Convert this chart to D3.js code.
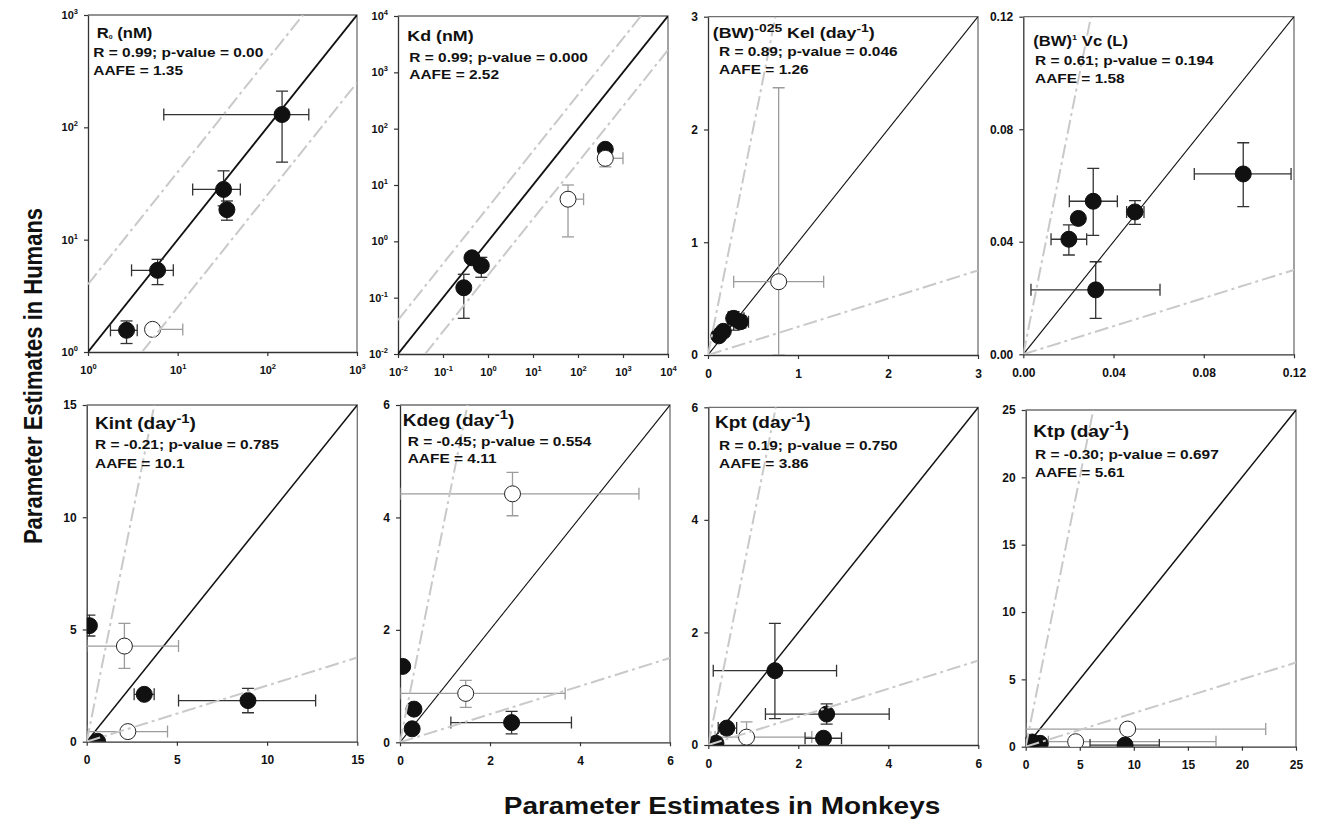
<!DOCTYPE html>
<html>
<head>
<meta charset="utf-8">
<script src="https://cdn.jsdelivr.net/npm/d3@7"></script>
<style>
  body { margin: 0; background: #fff; }
  svg { display: block; font-family: "Liberation Sans", Arial, Helvetica, sans-serif; font-weight: bold; }
</style>
</head>
<body>
<svg id="chart" width="1319" height="826"></svg>
<script>
// ---------- data ----------
// Each row: monkey estimate, human estimate, monkey low, monkey high, human low, human high, open marker (1) / filled (0)
const r0Points = [
  [146, 130, 7.0, 290, 49, 210, 0],
  [32.5, 28, 14.7, 50, 20, 41, 0],
  [35.4, 18.5, 31, 40, 14.9, 22.1, 0],
  [5.97, 5.33, 3.06, 8.94, 3.98, 6.68, 0],
  [2.69, 1.56, 1.78, 3.54, 1.19, 1.89, 0],
  [5.25, 1.59, 4.6, 11.4, null, null, 1]
];
const kdPoints = [
  [0.44, 0.51, null, null, null, null, 0],
  [0.71, 0.37, null, null, 0.23, 0.52, 0],
  [0.29, 0.15, null, null, 0.043, 0.26, 0],
  [404, 43, null, null, null, null, 0],
  [404, 29.8, 300, 1000, 21, 39, 1],
  [60, 5.6, 45, 133, 1.2, 10, 1]
];
const kelPoints = [
  [0.12, 0.17, null, null, null, null, 0],
  [0.17, 0.21, null, null, null, null, 0],
  [0.285, 0.325, 0.22, 0.40, 0.22, 0.385, 0],
  [0.36, 0.295, 0.30, 0.45, 0.24, 0.35, 0],
  [0.785, 0.65, 0.285, 1.285, 0, 2.37, 1]
];
const vcPoints = [
  [0.0975, 0.0641, 0.0758, 0.1187, 0.0525, 0.0752, 0],
  [0.0310, 0.0544, 0.0204, 0.0417, 0.0423, 0.0661, 0],
  [0.0244, 0.0483, null, null, null, null, 0],
  [0.0202, 0.0409, 0.0123, 0.0281, 0.0353, 0.0460, 0],
  [0.0495, 0.0506, 0.0458, 0.0535, 0.0462, 0.0546, 0],
  [0.0321, 0.0229, 0.0034, 0.0606, 0.0128, 0.0329, 0]
];
const kintPoints = [
  [0.15, 5.17, null, null, 4.71, 5.64, 0],
  [2.09, 4.26, 0, 5.09, 3.27, 5.27, 1],
  [3.19, 2.11, 2.63, 3.74, null, null, 0],
  [8.94, 1.83, 5.09, 12.69, 1.29, 2.38, 0],
  [2.28, 0.45, 0, 4.48, null, null, 1],
  [0.6, 0.02, null, null, null, null, 0]
];
const kdegPoints = [
  [2.50, 4.42, 0, 5.31, 4.03, 4.80, 1],
  [0.06, 1.35, null, null, null, null, 0],
  [1.46, 0.87, 0, 3.67, 0.62, 1.10, 1],
  [0.31, 0.59, null, null, null, null, 0],
  [0.27, 0.24, null, null, null, null, 0],
  [2.48, 0.35, 1.13, 3.81, 0.15, 0.55, 0]
];
const kptPoints = [
  [1.48, 1.32, 0.11, 2.85, 0.47, 2.16, 0],
  [0.41, 0.30, 0.22, 0.63, 0.20, 0.38, 0],
  [0.85, 0.14, 0.15, 2.3, 0, 0.41, 1],
  [2.56, 0.12, 2.15, 2.96, null, null, 0],
  [2.63, 0.55, 1.27, 4.02, 0.37, 0.73, 0],
  [0.17, 0.03, null, null, null, null, 0]
];
const ktpPoints = [
  [9.43, 1.31, 0, 22.2, 1.0, 1.6, 1],
  [4.62, 0.37, 2.1, 17.6, null, null, 1],
  [9.19, 0.12, 5.95, 12.36, null, null, 0],
  [1.33, 0.25, null, null, null, null, 0],
  [0.25, 0.12, null, null, null, null, 0],
  [0.6, 0.35, null, null, null, null, 0]
];

// axis ticks
const r0Ticks = [1, 10, 100, 1000];
const kdTicks = [0.01, 0.1, 1, 10, 100, 1000, 10000];
const kelTicks = [0, 1, 2, 3];
const vcTicks = [0, 0.04, 0.08, 0.12];
const kintTicks = [0, 5, 10, 15];
const kdegTicks = [0, 2, 4, 6];
const kptTicks = [0, 2, 4, 6];
const ktpTicks = [0, 5, 10, 15, 20, 25];

// panel headings: [text, kind] where kind is "" | "sup" | "sup1" | "sub"
const r0Title = [["R", ""], ["0", "sub"], [" (nM)", ""]];
const kdTitle = [["Kd (nM)", ""]];
const kelTitle = [["(BW)", ""], ["-025", "sup"], [" Kel (day", ""], ["-1", "sup"], [")", ""]];
const vcTitle = [["(BW)", ""], ["1", "sup1"], [" Vc (L)", ""]];
const kintTitle = [["Kint (day", ""], ["-1", "sup"], [")", ""]];
const kdegTitle = [["Kdeg (day", ""], ["-1", "sup"], [")", ""]];
const kptTitle = [["Kpt (day", ""], ["-1", "sup"], [")", ""]];
const ktpTitle = [["Ktp (day", ""], ["-1", "sup"], [")", ""]];

const r0Stats = ["R = 0.99; p-value = 0.00", "AAFE = 1.35"];
const kdStats = ["R = 0.99; p-value = 0.000", "AAFE = 2.52"];
const kelStats = ["R = 0.89; p-value = 0.046", "AAFE = 1.26"];
const vcStats = ["R = 0.61; p-value = 0.194", "AAFE = 1.58"];
const kintStats = ["R = -0.21; p-value = 0.785", "AAFE = 10.1"];
const kdegStats = ["R = -0.45; p-value = 0.554", "AAFE = 4.11"];
const kptStats = ["R = 0.19; p-value = 0.750", "AAFE = 3.86"];
const ktpStats = ["R = -0.30; p-value = 0.697", "AAFE = 5.61"];

const foldFactor = 4;

// ---------- layout ----------
// box: [left, top, right, bottom]; title/stats offsets from box corner
const panels = [
  { box: [88, 15, 357, 352], log: true, domain: [1, 1000], ticks: r0Ticks, pts: r0Points,
    title: r0Title, titleSize: 14, titlePos: [8.7, 23.3], stats: r0Stats, statsPos: [5.3, 42.3, 60], idW: 1.8 },
  { box: [398, 16, 668, 354], log: true, domain: [0.01, 10000], ticks: kdTicks, pts: kdPoints,
    title: kdTitle, titleSize: 15, titlePos: [9.3, 24.7], stats: kdStats, statsPos: [11.3, 45.7, 63], idW: 1.8 },
  { box: [708, 16.7, 978, 355], log: false, domain: [0, 3], ticks: kelTicks, fmt: d3.format("d"), pts: kelPoints,
    title: kelTitle, titleSize: 15, titlePos: [4.7, 21.6], stats: kelStats, statsPos: [11, 39, 57.3], idW: 1.1 },
  { box: [1023.3, 16.7, 1294, 354.3], log: false, domain: [0, 0.12], ticks: vcTicks, fmt: d3.format(".2f"), pts: vcPoints,
    title: vcTitle, titleSize: 14, titlePos: [10, 29], stats: vcStats, statsPos: [11.7, 48.3, 66.6], idW: 1.1 },
  { box: [86.7, 405, 357.3, 741.7], log: false, domain: [0, 15], ticks: kintTicks, fmt: d3.format("d"), pts: kintPoints,
    title: kintTitle, titleSize: 16, titlePos: [8.3, 24.3], stats: kintStats, statsPos: [8.3, 44.3, 62.7], idW: 1.5 },
  { box: [400, 405, 670, 742.3], log: false, domain: [0, 6], ticks: kdegTicks, fmt: d3.format("d"), pts: kdegPoints,
    title: kdegTitle, titleSize: 16, titlePos: [2.7, 21], stats: kdegStats, statsPos: [7.7, 40.7, 58.3], idW: 1.1 },
  { box: [708.3, 407.3, 978.3, 745], log: false, domain: [0, 6], ticks: kptTicks, fmt: d3.format("d"), pts: kptPoints,
    title: kptTitle, titleSize: 16, titlePos: [6.7, 21], stats: kptStats, statsPos: [10.7, 42.7, 61], idW: 1.5 },
  { box: [1025.7, 410, 1296, 746.7], log: false, domain: [0, 25], ticks: ktpTicks, fmt: d3.format("d"), pts: ktpPoints,
    title: ktpTitle, titleSize: 16, titlePos: [7.6, 26.7], stats: ktpStats, statsPos: [9.3, 49.3, 67.3], idW: 1.5 }
];

const TEXT_SX = 1.19;     // horizontal widening of the annotation type
const R = 8;              // marker radius
const CAP = 6;            // half-width of error-bar caps
const FRAME = "#707070";
const AXIS = "#333";
const FOLD = "#c9c9c9";

const svg = d3.select("#chart");

// rich text with super/subscripts
function richText(parent, parts, size) {
  const t = parent.append("text").attr("font-size", size).attr("fill", "#111");
  let shift = 0;
  parts.forEach(([str, kind]) => {
    let target = 0, fs = size;
    if (kind === "sup") { target = -size * 0.42; fs = size * 0.78; }
    if (kind === "sup1") { target = -size * 0.42; fs = size * 0.55; }
    if (kind === "sub") { target = size * 0.05; fs = size * 0.42; }
    t.append("tspan").attr("font-size", fs).attr("dy", target - shift).text(str);
    shift = target;
  });
  return t;
}

panels.forEach((p, i) => {
  const [L, T, Rt, B] = p.box;
  const g = svg.append("g");
  const x = (p.log ? d3.scaleLog() : d3.scaleLinear()).domain(p.domain).range([L, Rt]);
  const y = (p.log ? d3.scaleLog() : d3.scaleLinear()).domain(p.domain).range([B, T]);

  const clipId = "clip" + i;
  svg.append("clipPath").attr("id", clipId)
    .append("rect").attr("x", L).attr("y", T).attr("width", Rt - L).attr("height", B - T);

  // frame (top and right)
  g.append("path").attr("d", `M${L},${T}H${Rt}V${B}`).attr("fill", "none")
    .attr("stroke", FRAME).attr("stroke-width", 1.3);

  // axes
  const logFmt = () => "";
  const xAxis = d3.axisBottom(x).tickValues(p.ticks).tickSize(4).tickSizeOuter(0).tickPadding(10)
    .tickFormat(p.log ? logFmt : p.fmt);
  const yAxis = d3.axisLeft(y).tickValues(p.ticks).tickSize(4).tickSizeOuter(0).tickPadding(6)
    .tickFormat(p.log ? logFmt : p.fmt);
  const gx = g.append("g").attr("transform", `translate(0,${B})`).call(xAxis);
  const gy = g.append("g").attr("transform", `translate(${L},0)`).call(yAxis);
  [gx, gy].forEach(a => {
    a.select(".domain").attr("stroke", AXIS).attr("stroke-width", 1.3);
    a.selectAll(".tick line").attr("stroke", AXIS).attr("stroke-width", 1.2);
    a.selectAll(".tick text").attr("font-size", 12).attr("font-family", null).attr("fill", "#111");
  });
  if (p.log) {
    [gx, gy].forEach(a => {
      a.selectAll(".tick text").each(function(d) {
        const t = d3.select(this).text(null).attr("font-size", 11);
        t.append("tspan").text("10");
        t.append("tspan").attr("font-size", 7.5).attr("dy", -5).text(Math.round(Math.log10(d)));
      });
    });
  }

  const plot = g.append("g").attr("clip-path", `url(#${clipId})`);
  const [d0, d1] = p.domain;

  // line of identity
  plot.append("line")
    .attr("x1", x(d0)).attr("y1", y(d0)).attr("x2", x(d1)).attr("y2", y(d1))
    .attr("stroke", "#111").attr("stroke-width", p.idW);

  // error bars
  const bars = plot.append("g");
  p.pts.forEach(([m, h, mLo, mHi, hLo, hHi, open]) => {
    const col = open ? "#9c9c9c" : "#333";
    const sw = 1.3;
    if (mLo !== null) {
      bars.append("line").attr("x1", x(mLo)).attr("x2", x(mHi)).attr("y1", y(h)).attr("y2", y(h))
        .attr("stroke", col).attr("stroke-width", sw);
      [mLo, mHi].forEach(v => bars.append("line").attr("x1", x(v)).attr("x2", x(v))
        .attr("y1", y(h) - CAP).attr("y2", y(h) + CAP).attr("stroke", col).attr("stroke-width", sw));
    }
    if (hLo !== null) {
      bars.append("line").attr("x1", x(m)).attr("x2", x(m)).attr("y1", y(hLo)).attr("y2", y(hHi))
        .attr("stroke", col).attr("stroke-width", sw);
      [hLo, hHi].forEach(v => bars.append("line").attr("y1", y(v)).attr("y2", y(v))
        .attr("x1", x(m) - CAP).attr("x2", x(m) + CAP).attr("stroke", col).attr("stroke-width", sw));
    }
  });

  // markers
  plot.append("g").selectAll("circle").data(p.pts).join("circle")
    .attr("cx", d => x(d[0])).attr("cy", d => y(d[1])).attr("r", R)
    .attr("fill", d => d[6] ? "#fff" : "#111")
    .attr("stroke", d => d[6] ? "#222" : "#111").attr("stroke-width", 1);

  // four-fold lines
  const folds = p.log
    ? [[[d0, d0 * foldFactor], [d1 / foldFactor, d1]], [[d0 * foldFactor, d0], [d1, d1 / foldFactor]]]
    : [[[d0, d0], [d1 / foldFactor, d1]], [[d0, d0], [d1, d1 / foldFactor]]];
  folds.forEach(([a, b]) => {
    plot.append("line")
      .attr("x1", x(a[0])).attr("y1", y(a[1])).attr("x2", x(b[0])).attr("y2", y(b[1]))
      .attr("stroke", FOLD).attr("stroke-width", 2).attr("stroke-dasharray", "14,4,3,4");
  });

  // heading and statistics
  const tg = g.append("g").attr("transform", `translate(${L + p.titlePos[0]},${T + p.titlePos[1]}) scale(${TEXT_SX},1)`);
  richText(tg, p.title, p.titleSize);
  p.stats.forEach((s, k) => {
    g.append("g").attr("transform", `translate(${L + p.statsPos[0]},${T + p.statsPos[1 + k]}) scale(${TEXT_SX},1)`)
      .append("text").attr("font-size", 13).attr("fill", "#111").text(s);
  });
});

// shared axis titles
svg.append("g").attr("transform", `translate(722,814) scale(${TEXT_SX},1)`)
  .append("text").attr("text-anchor", "middle").attr("font-size", 23.5).attr("fill", "#111")
  .text("Parameter Estimates in Monkeys");
svg.append("g").attr("transform", `translate(42,376) scale(${TEXT_SX},1) rotate(-90)`)
  .append("text").attr("text-anchor", "middle").attr("font-size", 22).attr("fill", "#111")
  .text("Parameter Estimates in Humans");
</script>
</body>
</html>
